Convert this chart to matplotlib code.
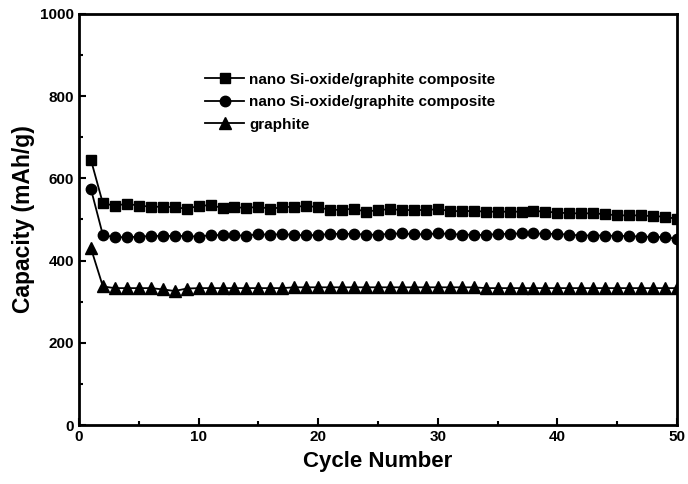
import matplotlib
matplotlib.use("Agg")
import matplotlib.pyplot as plt
from matplotlib.ticker import MultipleLocator

cycles = list(range(1, 51))
si_oxide_a = [645, 539, 534, 538, 534, 531, 531, 530, 526, 533, 535, 528, 530, 528, 531, 526, 530,
              531, 533, 530, 523, 524, 526, 519, 523, 525, 523, 523, 523, 525, 521, 520, 521,
              519, 519, 519, 519, 521, 519, 517, 515, 515, 515, 513, 510, 510, 510, 508, 507, 501]
si_oxide_b = [574, 462, 457, 457, 458, 460, 460, 460, 460, 458, 462, 462, 462, 460, 465, 462, 465,
              462, 462, 462, 465, 465, 465, 463, 463, 465, 466, 464, 464, 466, 465, 463, 463,
              462, 465, 465, 466, 466, 465, 465, 463, 461, 461, 461, 460, 460, 458, 458, 457, 453]
graphite = [430, 337, 333, 333, 333, 333, 330, 326, 332, 333, 333, 333, 333, 333, 333, 333, 333,
            335, 335, 335, 335, 335, 335, 335, 335, 335, 335, 335, 335, 335, 335, 335, 335,
            333, 333, 333, 333, 333, 333, 333, 333, 333, 333, 333, 333, 333, 333, 333, 333, 333]
labels = ["nano Si-oxide/graphite composite", "nano Si-oxide/graphite composite", "graphite"]

plt.rcParams['font.family'] = ['Liberation Sans', 'DejaVu Sans']

fig = plt.figure(figsize=(6.88, 4.84), dpi=100)
ax = fig.add_axes([0.1148, 0.1219, 0.8692, 0.8492])

ax.plot(cycles, si_oxide_a, marker='s', color='black', lw=1.3, ms=7, label=labels[0])
ax.plot(cycles, si_oxide_b, marker='o', color='black', lw=1.3, ms=7.5, label=labels[1])
ax.plot(cycles, graphite, marker='^', color='black', lw=1.3, ms=8, label=labels[2])

ax.set_xlim(0, 50)
ax.set_ylim(0, 1000)
ax.xaxis.set_major_locator(MultipleLocator(10))
ax.xaxis.set_minor_locator(MultipleLocator(5))
ax.yaxis.set_major_locator(MultipleLocator(200))
ax.yaxis.set_minor_locator(MultipleLocator(100))
ax.tick_params(which='both', direction='in', width=1.5, labelsize=11)
ax.tick_params(which='major', length=5)
ax.tick_params(which='minor', length=3)
for lab in ax.get_xticklabels() + ax.get_yticklabels():
    lab.set_fontweight('bold')
for sp in ax.spines.values():
    sp.set_linewidth(2)

ax.set_xlabel("Cycle Number", fontsize=16, fontweight='bold', labelpad=5)
ax.set_ylabel("Capacity (mAh/g)", fontsize=16.5, fontweight='bold', labelpad=4)

leg = ax.legend(loc='upper left', bbox_to_anchor=(0.2, 0.872), frameon=False,
                prop={'weight': 'bold', 'size': 11}, handlelength=2.6,
                handletextpad=0.3, labelspacing=0.55, borderaxespad=0)

fig.savefig("out.png", dpi=100)
